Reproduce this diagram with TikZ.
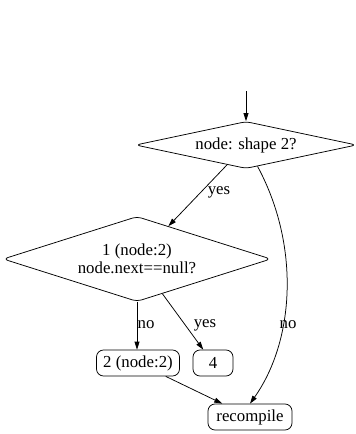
\documentclass[tikz,border=0pt]{standalone}
\usepackage{fontspec}
\setmainfont{Liberation Serif}
\usetikzlibrary{shapes.geometric,arrows.meta}
\tikzset{
  every node/.style={font=\fontsize{16.8}{18}\selectfont},
  decision/.style={shape=diamond, draw, rounded corners=5pt, inner sep=0pt,
    aspect=5, align=center},
  stepbox/.style={shape=rectangle, draw, rounded corners=7pt, inner sep=0pt,
    minimum height=26pt},
  flow/.style={draw, -{Triangle[length=8pt,width=5pt]}},
  lbl/.style={inner sep=0pt}
}
\begin{document}
\begin{tikzpicture}[x=1pt,y=-1pt,line width=0.75pt]
  \useasboundingbox (0,0) rectangle (356,434);
  \coordinate (entry) at (246,91);
  \node[decision, minimum width=221pt, minimum height=47pt] (d1) at (246,145) {node: shape 2?};
  \node[decision, minimum width=262pt, minimum height=85pt] (d2) at (137,259) {1 (node:2)\\node.next==null?};
  \node[stepbox, minimum width=83pt] (n2) at (138,363) {2 (node:2)};
  \node[stepbox, minimum width=40pt] (n4) at (213,363) {4};
  \node[stepbox, minimum width=84pt] (rc) at (250,417) {recompile};

  \draw[flow] (entry) -- (d1.north);
  \draw[flow] (d1) -- (d2);
  \draw[flow] (d1) .. controls (300,245) and (295,340) .. (rc.north);
  \draw[flow] (d2.south) -- (d2.south |- n2.north);
  \draw[flow] (d2) -- (n4);
  \draw[flow] (n2) -- (rc);

  \node[lbl] (l1) at (219,192) {yes};
  \node[lbl] (l2) at (146,325) {no};
  \node[lbl] (l3) at (205,325) {yes};
  \node[lbl] (l4) at (288,325) {no};
\end{tikzpicture}
\end{document}
